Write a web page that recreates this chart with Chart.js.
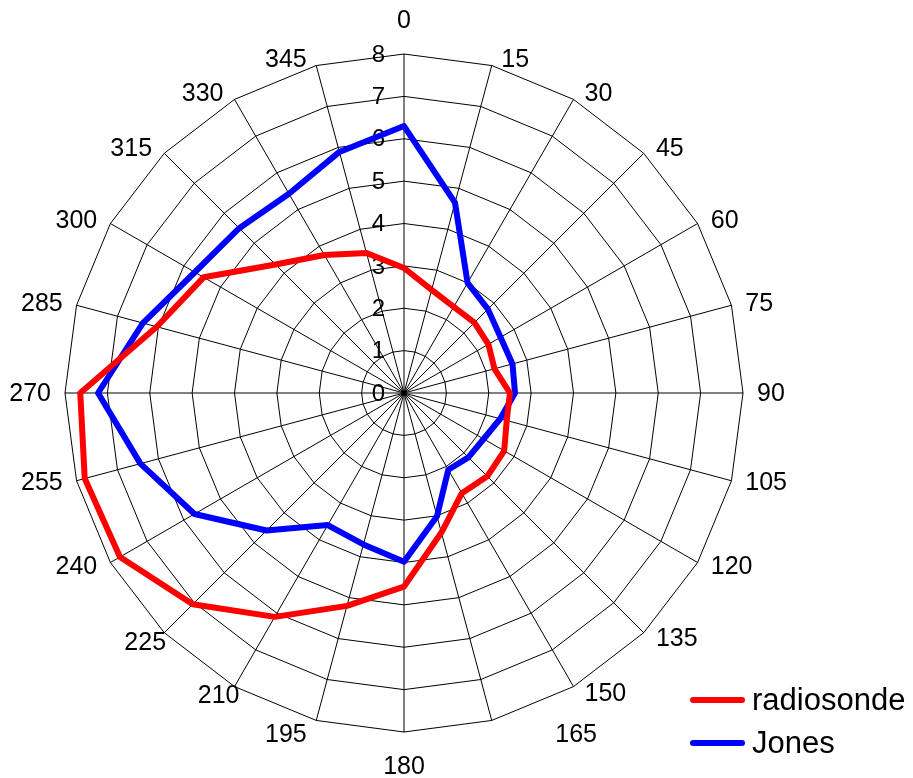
<!DOCTYPE html>
<html>
<head>
<meta charset="utf-8">
<script src="https://cdn.jsdelivr.net/npm/chart.js@4.4.1/dist/chart.umd.min.js"></script>
<style>
  html, body { margin: 0; padding: 0; background: #fff; }
  #wrap { position: relative; width: 913px; height: 778px; }
</style>
</head>
<body>
<div id="wrap"><canvas id="polarChart"></canvas></div>
<script>
// wind direction (degrees), one spoke every 15
const directions = ['0', '15', '30', '45', '60', '75', '90', '105', '120', '135', '150', '165',
                    '180', '195', '210', '225', '240', '255', '270', '285', '300', '315', '330', '345'];

const radiosonde = [2.95, 2.52, 2.35, 2.35, 2.30, 2.21, 2.50, 2.51, 2.73, 2.78, 2.73, 3.41,
                    4.57, 5.20, 6.10, 7.05, 7.74, 7.80, 7.64, 6.04, 5.46, 4.29, 3.76, 3.42];

const jones = [6.30, 4.65, 3.00, 2.80, 2.63, 2.65, 2.62, 2.35, 2.17, 2.15, 2.09, 3.01,
               3.98, 3.70, 3.60, 4.59, 5.71, 6.44, 7.22, 6.38, 5.70, 5.50, 5.43, 5.89];

const rTicks = [0, 1, 2, 3, 4, 5, 6, 7, 8];

const FONT = '"Liberation Sans", Arial, sans-serif';

// Excel pushed a few of the bottom labels sideways, copy that
const labelNudge = { '165': [54, 7], '195': [0, 7], '210': [16, 2], '225': [14, 4] };

// labels, tick numbers and legend are drawn by hand so they sit like the Excel original
const decorPlugin = {
    id: 'decor',
    beforeDatasetsDraw(chart) {
        const ctx = chart.ctx;
        const scale = chart.scales.r;
        const R = scale.drawingArea;
        ctx.save();
        ctx.fillStyle = '#000';

        // tick numbers just left of the 0 spoke
        ctx.font = '24px ' + FONT;
        ctx.textAlign = 'right';
        ctx.textBaseline = 'middle';
        rTicks.forEach(v => {
            const y = scale.yCenter - scale.getDistanceFromCenterForValue(v);
            ctx.fillText(String(v), scale.xCenter - 19, y + 1);
        });

        // direction labels round the outside
        ctx.font = '25px ' + FONT;
        directions.forEach((lab, i) => {
            const a = i * 15 * Math.PI / 180;
            const s = Math.sin(a), c = Math.cos(a);
            const p = scale.getPointPosition(i, R);
            const n = labelNudge[lab] || [0, 0];
            if (Math.abs(s) < 0.01) {
                ctx.textAlign = 'center';
                ctx.fillText(lab, p.x + n[0], p.y - c * 34 + 1 + n[1]);
            } else {
                ctx.textAlign = s > 0 ? 'left' : 'right';
                const gap = 8 + 6 * Math.abs(s);
                ctx.fillText(lab, p.x + Math.sign(s) * gap + n[0], p.y - 7 * c + 1 + n[1]);
            }
        });
        ctx.restore();
    },
    afterDraw(chart) {
        const ctx = chart.ctx;
        ctx.save();
        ctx.font = '31px ' + FONT;
        ctx.textAlign = 'left';
        ctx.textBaseline = 'middle';
        chart.data.datasets.forEach((ds, i) => {
            const y = 700 + i * 43;
            ctx.strokeStyle = ds.borderColor;
            ctx.lineWidth = 6;
            ctx.lineCap = 'round';
            ctx.beginPath();
            ctx.moveTo(693, y);
            ctx.lineTo(742, y);
            ctx.stroke();
            ctx.fillStyle = '#000';
            ctx.fillText(ds.label, 752, y + 1);
        });
        ctx.restore();
    }
};

const ctx = document.getElementById('polarChart').getContext('2d');
new Chart(ctx, {
    type: 'radar',
    data: {
        labels: directions,
        datasets: [
            {
                label: 'radiosonde',
                data: radiosonde,
                borderColor: '#ff0000',
                backgroundColor: 'rgba(0,0,0,0)',
                borderWidth: 6,
                borderJoinStyle: 'round',
                pointRadius: 0,
                fill: false
            },
            {
                label: 'Jones',
                data: jones,
                borderColor: '#0000ff',
                backgroundColor: 'rgba(0,0,0,0)',
                borderWidth: 6,
                borderJoinStyle: 'round',
                pointRadius: 0,
                fill: false
            }
        ]
    },
    options: {
        responsive: true,
        maintainAspectRatio: false,
        animation: false,
        layout: {
            padding: { left: 65, right: 170, top: 54, bottom: 46 }
        },
        scales: {
            r: {
                min: 0,
                max: 8,
                startAngle: 0,
                ticks: { display: false, stepSize: 1 },
                pointLabels: { display: false },
                grid: { color: '#000', lineWidth: 1, circular: false },
                angleLines: { color: '#000', lineWidth: 1 }
            }
        },
        plugins: {
            legend: { display: false },
            tooltip: { enabled: false }
        }
    },
    plugins: [decorPlugin]
});
</script>
</body>
</html>
